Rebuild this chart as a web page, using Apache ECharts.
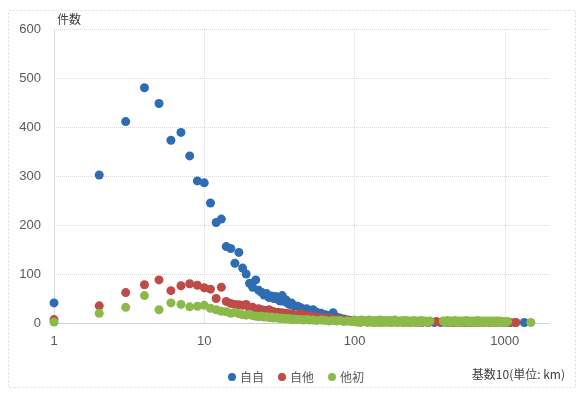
<!DOCTYPE html>
<html>
<head>
<meta charset="utf-8">
<script src="https://cdn.jsdelivr.net/npm/echarts@6/dist/echarts.min.js"></script>
<style>
  html, body { margin: 0; padding: 0; background: #fff; }
  #chart { width: 581px; height: 393px; }
</style>
</head>
<body>
<div id="chart"></div>
<script>
// Distances (km) shared by the three series in the near range
const distKm = [
  1, 2, 3, 4, 5, 6, 7, 8, 9, 10,
  11, 12, 13, 14, 15, 16, 17, 18, 19, 20,
  21, 22, 23, 24, 25, 26, 27, 28, 29, 30,
  31, 32, 33, 34, 35, 36, 37, 38, 39, 40,
  42, 44, 46, 48, 50, 53, 56, 60, 64, 68, 72, 76, 80, 85, 90, 95
];

// 自自
const jijiCount = [
  41, 302, 411, 480, 448, 373, 389, 341, 290, 286,
  245, 205, 212, 156, 152, 122, 144, 112, 100, 81,
  73, 88, 67, 63, 57, 60, 52, 55, 50, 54,
  48, 45, 56, 44, 47, 40, 38, 41, 36, 35,
  34, 31, 28, 29, 25, 27, 22, 20, 17, 15, 21, 12, 10, 8, 6, 5
];
// 自他
const jitaCount = [
  7, 35, 62, 78, 88, 66, 76, 80, 77, 72,
  69, 50, 73, 44, 40, 38, 37, 36, 38, 30,
  32, 28, 29, 27, 26, 25, 27, 24, 23, 21,
  22, 20, 21, 19, 20, 18, 19, 17, 18, 16,
  17, 19, 15, 14, 15, 13, 12, 11, 10, 9, 8, 8, 7, 6, 6, 5
];
// 他初
const tashoCount = [
  2, 20, 32, 56, 27, 41, 38, 33, 34, 36,
  30, 27, 24, 23, 20, 22, 19, 17, 16, 18,
  15, 14, 13, 14, 12, 13, 11, 12, 10, 11,
  10, 9, 10, 9, 8, 9, 8, 8, 7, 8,
  7, 7, 6, 7, 6, 6, 5, 6, 5, 4, 5, 4, 5, 3, 4, 3
];

// Long-distance tails (km, count)
const jijiTailKm = [100, 110, 121, 133, 146, 160, 176, 193, 212, 233, 256, 281, 309, 340, 374, 411, 452, 497, 547, 602, 662, 728, 801, 881, 969, 1066, 1173, 1350];
const jijiTailCount = [4, 3, 3, 2, 2, 2, 2, 2, 1, 1, 1, 1, 1, 1, 1, 1, 1, 1, 1, 1, 1, 1, 1, 1, 1, 1, 1, 1];
const jitaTailKm = [100, 110, 121, 133, 146, 160, 176, 193, 212, 233, 256, 281, 309, 350, 380, 420, 470, 520, 580, 640, 710, 790, 880, 980, 1090, 1188];
const jitaTailCount = [4, 3, 3, 3, 2, 3, 2, 2, 2, 2, 2, 2, 1, 3, 2, 1, 1, 1, 1, 1, 1, 1, 1, 1, 1, 1];
const tashoTailKm = [100, 103, 106, 109, 112, 115, 118, 122, 125, 129, 132, 136, 140, 144, 148, 152, 157, 161, 166, 171, 176, 181, 186, 192, 197, 203, 209, 215, 221, 228, 234, 241, 248, 256, 263, 271, 278, 287, 295, 306, 318, 390, 403, 416, 428, 441, 454, 467, 481, 495, 509, 524, 540, 555, 571, 588, 605, 623, 641, 660, 679, 699, 719, 740, 762, 784, 807, 830, 855, 880, 906, 932, 959, 987, 1016, 1045, 1493];
const tashoTailCount = [6, 2, 5, 1, 6, 3, 5, 1, 6, 2, 5, 1, 5, 2, 6, 1, 5, 2, 5, 1, 5, 2, 6, 1, 4, 2, 5, 1, 5, 1, 4, 2, 5, 1, 4, 1, 5, 2, 4, 1, 4, 4, 1, 5, 1, 4, 2, 5, 1, 4, 1, 4, 2, 5, 1, 4, 1, 4, 1, 5, 1, 4, 1, 4, 2, 4, 1, 4, 1, 4, 1, 4, 1, 3, 1, 3, 1];

const seriesNames = ['自自', '自他', '他初'];
const seriesColors = ['#2E6DB4', '#BE4B48', '#8CBA48'];

// Axis settings
const yTicks = [0, 100, 200, 300, 400, 500, 600];
const xDecades = [10, 100, 1000];

function pairs(xs, ys) {
  return xs.map((x, i) => [x, ys[i]]);
}

const seriesData = [
  pairs(distKm, jijiCount).concat(pairs(jijiTailKm, jijiTailCount)),
  pairs(distKm, jitaCount).concat(pairs(jitaTailKm, jitaTailCount)),
  pairs(distKm, tashoCount).concat(pairs(tashoTailKm, tashoTailCount))
];

const chart = echarts.init(document.getElementById('chart'), null, { renderer: 'canvas' });

const labelFont = 'Liberation Sans, Arial, sans-serif';
const cjkFont = '"Noto Sans CJK JP", "Noto Sans", sans-serif';

const option = {
  backgroundColor: '#fff',
  animation: false,
  graphic: [{
    type: 'rect',
    shape: { x: 8.5, y: 10.5, width: 567, height: 377 },
    style: { fill: null, stroke: '#dcdcdc', lineWidth: 1, lineDash: [2, 2] },
    silent: true,
    z: 0
  }],
  grid: { left: 54, right: 31, top: 29, bottom: 70 },
  legend: {
    data: seriesNames,
    left: 223,
    top: 366,
    itemWidth: 8,
    itemHeight: 8,
    itemGap: 14,
    icon: 'circle',
    textStyle: { color: '#595959', fontSize: 12, fontFamily: cjkFont, padding: [0, 0, 0, -1] }
  },
  xAxis: {
    type: 'log',
    logBase: 10,
    min: 1,
    max: 2000,
    name: '基数10(単位: km)',
    nameLocation: 'end',
    nameGap: 15,
    nameTextStyle: {
      color: '#404040', fontSize: 12, fontFamily: cjkFont,
      align: 'right', verticalAlign: 'top', padding: [45, 0, 0, 0]
    },
    axisLine: { show: true, lineStyle: { color: '#c4c4c4', type: 'dotted', width: 1 } },
    axisTick: { show: false },
    splitLine: { show: false },
    axisLabel: {
      color: '#595959', fontSize: 13, fontFamily: labelFont, margin: 12,
      showMaxLabel: false,
      formatter: v => String(Math.round(v))
    }
  },
  yAxis: {
    type: 'value',
    min: yTicks[0],
    max: yTicks[yTicks.length - 1],
    interval: yTicks[1] - yTicks[0],
    name: '件数',
    nameLocation: 'end',
    nameGap: 4,
    nameTextStyle: {
      color: '#404040', fontSize: 12, fontFamily: cjkFont,
      align: 'left', verticalAlign: 'bottom', padding: [0, 0, 0, 3]
    },
    axisLine: { show: true, lineStyle: { color: '#d4d4d4', type: 'dotted', width: 1 } },
    axisTick: { show: false },
    splitLine: { show: true, lineStyle: { color: '#d9d9d9', type: 'dotted', width: 1 } },
    axisLabel: { color: '#595959', fontSize: 13, fontFamily: labelFont, margin: 13 }
  },
  series: [
    {
      // vertical gridlines at each decade, kept beneath the points
      type: 'scatter',
      data: [],
      z: 1,
      silent: true,
      markLine: {
        z: 1,
        silent: true,
        symbol: 'none',
        animation: false,
        label: { show: false },
        lineStyle: { color: '#d9d9d9', type: 'dotted', width: 1 },
        data: xDecades.map(v => ({ xAxis: v }))
      }
    }
  ].concat(seriesNames.map((name, i) => ({
    name: name,
    type: 'scatter',
    symbol: 'circle',
    symbolSize: 9,
    z: 2 + i,
    itemStyle: { color: seriesColors[i], opacity: 1 },
    emphasis: { disabled: true },
    data: seriesData[i]
  })))
};

chart.setOption(option);
</script>
</body>
</html>
